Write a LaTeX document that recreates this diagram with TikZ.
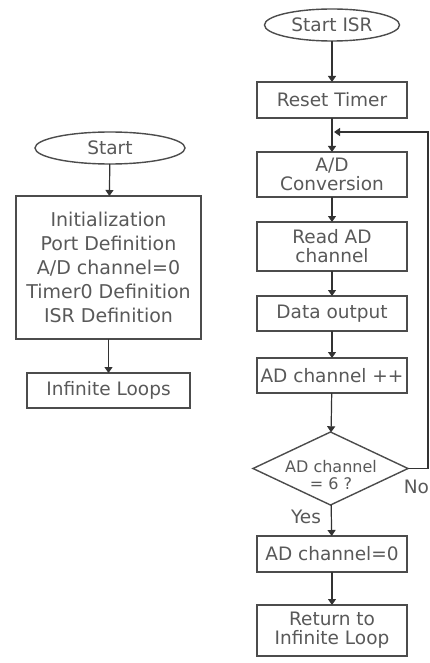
\documentclass[tikz,border=0pt]{standalone}
\usepackage{fontspec}
\setmainfont{DejaVu Sans}
\usetikzlibrary{shapes.geometric,arrows.meta}
\begin{document}
\begin{tikzpicture}[x=1pt,y=-1pt,
  every node/.style={inner sep=0pt,outer sep=0pt},
  box/.style={draw=black!70,line width=1.4pt,rectangle,align=center,text=black!65,
    font=\fontsize{18.5}{19}\selectfont},
  oval/.style={draw=black!70,line width=1.4pt,ellipse,align=center,text=black!65,
    font=\fontsize{18.5}{19}\selectfont},
  lbl/.style={text=black!65,font=\fontsize{18.5}{19}\selectfont},
  conn/.style={draw=black!80,line width=1.2pt,-{Triangle[width=8pt,length=6pt]}},
  plain/.style={draw=black!80,line width=1.2pt}
]
\useasboundingbox (0,0) rectangle (430,663);
\fill[white] (0,0) rectangle (430,663);
% left column
\node[oval,minimum width=150,minimum height=32] (start) at (110,148) {Start};
\node[box,minimum width=185,minimum height=143,font=\fontsize{19}{24}\selectfont] (init) at (108.5,267.5)
  {Initialization\\Port Definition\\A/D channel=0\\Timer0 Definition\\ISR Definition};
\node[box,minimum width=163,minimum height=35] (inf) at (108.5,390.5) {Infinite Loops};
\draw[conn] (start) -- (init);
\draw[conn] (init) -- (inf);
% right column
\node[oval,minimum width=135,minimum height=32] (isr) at (332,25) {Start ISR};
\node[box,minimum width=150,minimum height=36] (reset) at (332,100) {Reset Timer};
\node[box,minimum width=150,minimum height=45] (adc) at (332,174.5) {A/D\\Conversion};
\node[box,minimum width=150,minimum height=49] (read) at (332,246.5) {Read AD\\channel};
\node[box,minimum width=150,minimum height=35] (data) at (332,313.5) {Data output};
\node[box,minimum width=150,minimum height=35] (inc) at (332,375.5) {AD channel ++};
\node[draw=black!70,line width=1.4pt,diamond,minimum width=155,minimum height=73] (dia) at (330.5,468.5) {};
\node[align=center,text=black!65,font=\fontsize{16}{17}\selectfont] (diat) at (331,475) {AD channel\\= 6 ?};
\node[box,minimum width=150,minimum height=36] (zero) at (332,554) {AD channel=0};
\node[box,minimum width=150,minimum height=51] (ret) at (332,630.5) {Return to\\Infinite Loop};
\draw[conn] (isr) -- (reset);
\draw[conn] (reset) -- (adc);
\draw[conn] (adc) -- (read);
\draw[conn] (read) -- (data);
\draw[conn] (data) -- (inc);
\draw[conn] (inc) -- (dia);
\draw[conn] (dia) -- (zero);
\draw[conn] (zero) -- (ret);
\coordinate (fbR) at (428,132);
\coordinate (fbJ) at (334,132);
\draw[conn] (dia.east) -| (fbR) -- (fbJ);
\node[lbl,anchor=east] (no) at (429,487) {No};
\node[lbl] (yes) at (306,517) {Yes};
\end{tikzpicture}
\end{document}
